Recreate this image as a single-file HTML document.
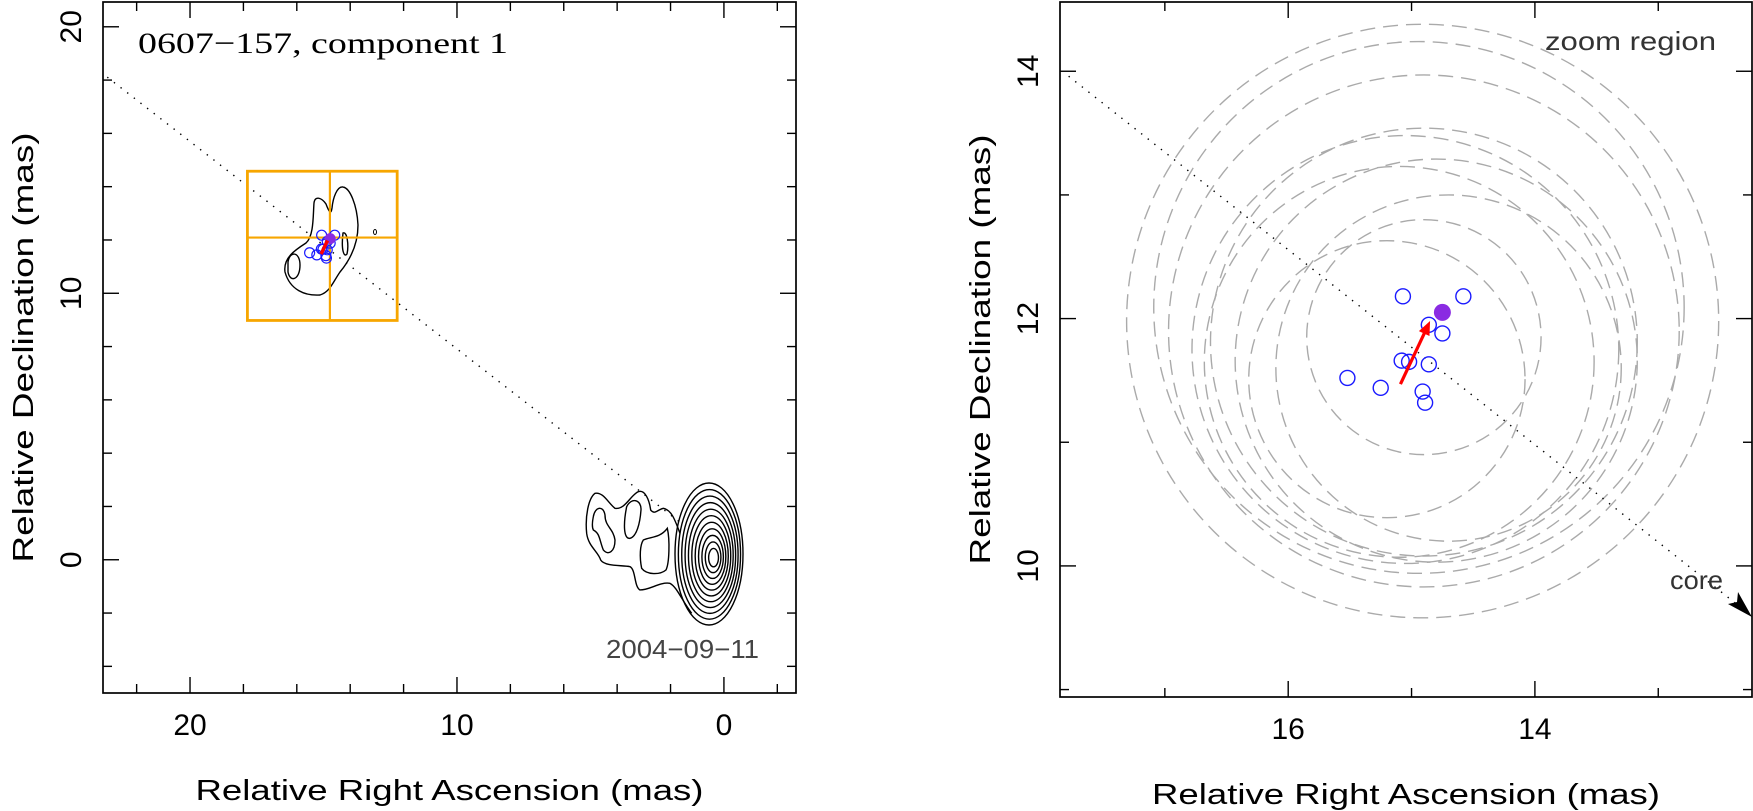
<!DOCTYPE html>
<html><head><meta charset="utf-8"><style>
html,body{margin:0;padding:0;background:#fff;}
svg{display:block;font-family:"Liberation Sans",sans-serif;}
</style></head><body>
<svg id="c" width="1753" height="811" viewBox="0 0 1753 811" xmlns="http://www.w3.org/2000/svg"></svg>
<script>
// ---- data ----
const compRA  = [15.07,14.58,14.86,14.75,15.08,15.02,14.86,15.52,15.25,14.91,14.89];
const compDec = [12.18,12.18,11.95,11.88,11.66,11.65,11.63,11.52,11.44,11.41,11.32];
const latestRA = [14.75];
const latestDec = [12.05];
const arrowRA = [15.09,14.85];
const arrowDec = [11.47,11.98];
const errCx = [14.91,14.94,14.90,14.90,15.05,14.80,15.10,14.70,14.90,15.20];
const errCy = [11.98,12.09,11.90,11.81,11.75,11.66,11.65,11.60,11.85,11.51];
const errR  = [2.40,2.15,2.07,1.73,1.73,1.63,1.58,1.40,0.95,1.12];
const zoomBoxRA = [17.85,12.24];
const zoomBoxDec = [14.58,8.98];
const zoomCross = [14.76,12.09];
const leftJetLineRA = [23.1,1.65];
const leftJetLineDec = [18.11,1.41];
const rightJetLineRA = [17.78,12.30];
const rightJetLineDec = [13.96,9.64];
const leftXTicks = [20,10,0];
const leftYTicks = [20,10,0];
const rightXTicks = [16,14];
const rightYTicks = [14,12,10];
const coreLevels = [1,2,3,4,5,6,7,8,9,10,11];

const svg = document.getElementById('c');
const NS = 'http://www.w3.org/2000/svg';
function mk(tag, attrs, parent){const e=document.createElementNS(NS,tag);for(const k in attrs)e.setAttribute(k,attrs[k]);(parent||svg).appendChild(e);return e;}

function panel(name, x0,x1,y0,y1, raL,raR,decT,decB, xMaj,xMin,yMaj,yMin, xTicks,yTicks){
  const g = mk('g',{});
  
  
  const X = v => x0 + (raL - v)/(raL-raR)*(x1-x0);
  const Y = v => y0 + (decT - v)/(decT-decB)*(y1-y0);
  const fr = mk('rect',{x:x0,y:y0,width:x1-x0,height:y1-y0,fill:'none',stroke:'#000','stroke-width':1.7},g);
  
  
  const eps=1e-6;
  for(let v=Math.ceil(Math.min(raL,raR)/xMin)*xMin; v<=Math.max(raL,raR)+eps; v+=xMin){
    const maj = Math.abs(v/xMaj-Math.round(v/xMaj))<1e-4; const Ln=maj?16:9; const px=X(v);
    mk('line',{x1:px,y1:y1,x2:px,y2:y1-Ln,stroke:'#000','stroke-width':1.4},g);
    mk('line',{x1:px,y1:y0,x2:px,y2:y0+Ln,stroke:'#000','stroke-width':1.4},g);
  }
  for(let v=Math.ceil(decB/yMin)*yMin; v<=decT+eps; v+=yMin){
    const maj = Math.abs(v/yMaj-Math.round(v/yMaj))<1e-4; const Ln=maj?16:9; const py=Y(v);
    mk('line',{x1:x0,y1:py,x2:x0+Ln,y2:py,stroke:'#000','stroke-width':1.4},g);
    mk('line',{x1:x1,y1:py,x2:x1-Ln,y2:py,stroke:'#000','stroke-width':1.4},g);
  }
  xTicks.forEach(v=>{const t=mk('text',{x:X(v),y:y1+42,'font-size':30,'text-anchor':'middle'},g);t.textContent=v;
    });
  yTicks.forEach(v=>{const cx=x0-22;const t=mk('text',{x:cx,y:Y(v),'font-size':30,'text-anchor':'middle',transform:`rotate(-90 ${cx} ${Y(v)})`},g);t.textContent=v;
    });
  const xl=mk('text',{x:(x0+x1)/2,y:y1+107,'font-size':29,'text-anchor':'middle',textLength:508,lengthAdjust:'spacingAndGlyphs'},g);xl.textContent='Relative Right Ascension (mas)';
  
  const yx=x0-70, yy=(y0+y1)/2;
  const yl=mk('text',{x:yx,y:yy,'font-size':29,'text-anchor':'middle',textLength:430,lengthAdjust:'spacingAndGlyphs',transform:`rotate(-90 ${yx} ${yy})`},g);yl.textContent='Relative Declination (mas)';
  
  return {g,X,Y};
}

// ---- left panel ----
const L = panel('left-panel',103,796,2,693, 23.26,-2.70,20.93,-5.0, 10,2,10,2, leftXTicks,leftYTicks);
const clipL = mk('clipPath',{id:'clipL'}); mk('rect',{x:103,y:2,width:693,height:691},clipL);
const lg = mk('g',{'clip-path':'url(#clipL)'},L.g);
const dl=mk('line',{x1:L.X(leftJetLineRA[0]),y1:L.Y(leftJetLineDec[0]),x2:L.X(leftJetLineRA[1]),y2:L.Y(leftJetLineDec[1]),stroke:'#000','stroke-width':1.4,'stroke-dasharray':'1.4 7'},lg);

coreLevels.forEach((lv,i)=>{
  const f = 1 - i/coreLevels.length;
  const e=mk('ellipse',{cx:714-5*f,cy:558-4*f,rx:32*f+2,ry:68*f+3,fill:'none',stroke:'#000','stroke-width':1.4},lg);
  
});
const jg = mk('g',{transform:'translate(560,400) scale(0.3333)'},lg);
[
 'M360,400 C345,360 335,330 310,325 C290,330 285,345 272,330 C268,300 255,268 235,275 C212,285 195,330 165,325 C145,310 130,275 105,280 C85,295 75,350 80,400 C85,440 115,455 122,480 C135,500 185,495 210,500 C228,510 222,560 240,570 C270,570 300,545 330,550 C350,560 365,600 395,640',
 'M100,350 C105,320 130,315 135,345 C135,380 160,385 165,420 C165,455 145,468 130,450 C118,420 120,400 100,390 C95,380 97,365 100,350 Z',
 'M200,320 C215,290 245,300 243,330 C240,370 230,410 210,415 C190,418 190,370 200,320 Z',
 'M250,420 C270,410 300,415 322,385 C330,420 328,490 318,510 C300,525 260,525 245,505 C238,470 240,435 250,420 Z'
].forEach(d=>{const p=mk('path',{d,fill:'none',stroke:'#000','stroke-width':4.2},jg);
  });
['M343,187 C350,188 357,205 358,225 C358,245 350,260 340,272 C333,282 330,292 320,295 C305,296 290,290 285,272 C283,258 295,250 306,243 C314,236 313,215 314,203 C315,195 322,198 326,204 C329,212 331,215 332,208 C333,198 337,186 343,187 Z',
 'M288,262 C290,250 300,252 300,265 C300,280 290,283 288,272 Z',
 'M343,233 C347,231 349,245 347,254 C344,258 341,250 343,233 Z'
].forEach(d=>{const p=mk('path',{d,fill:'none',stroke:'#000','stroke-width':1.4},lg);
  });
mk('ellipse',{cx:375,cy:232,rx:1.5,ry:2.5,fill:'none',stroke:'#000','stroke-width':1},lg);
const zb=mk('rect',{x:L.X(zoomBoxRA[0]),y:L.Y(zoomBoxDec[0]),width:L.X(zoomBoxRA[1])-L.X(zoomBoxRA[0]),height:L.Y(zoomBoxDec[1])-L.Y(zoomBoxDec[0]),fill:'none',stroke:'#f7a600','stroke-width':2.8},lg);

mk('line',{x1:L.X(zoomCross[0]),y1:L.Y(zoomBoxDec[0]),x2:L.X(zoomCross[0]),y2:L.Y(zoomBoxDec[1]),stroke:'#f7a600','stroke-width':2.2},lg);
mk('line',{x1:L.X(zoomBoxRA[0]),y1:L.Y(zoomCross[1]),x2:L.X(zoomBoxRA[1]),y2:L.Y(zoomCross[1]),stroke:'#f7a600','stroke-width':2.2},lg);
compRA.forEach((r,i)=>{const c=mk('circle',{cx:L.X(r),cy:L.Y(compDec[i]),r:5,fill:'none',stroke:'#1a1aff','stroke-width':1.2},lg);
  });
mk('circle',{cx:L.X(latestRA[0]),cy:L.Y(latestDec[0]),r:5.5,fill:'#8a2be2'},lg);
mk('line',{x1:L.X(arrowRA[0]),y1:L.Y(arrowDec[0]),x2:L.X(arrowRA[1]),y2:L.Y(arrowDec[1]),stroke:'#f00','stroke-width':3.5},lg);
const t1=mk('text',{x:138,y:53,'font-size':30,'font-family':'Liberation Serif, serif',textLength:370,lengthAdjust:'spacingAndGlyphs'},L.g);t1.textContent='0607\u2212157, component 1';

const t2=mk('text',{x:606,y:658,'font-size':26,fill:'#444',textLength:153,lengthAdjust:'spacingAndGlyphs'},L.g);t2.textContent='2004\u221209\u221211';


// ---- right panel ----
const R = panel('right-panel',1060,1752,2,697, 17.85,12.24,14.56,8.94, 2,1,2,1, rightXTicks,rightYTicks);
const clipR = mk('clipPath',{id:'clipR'}); mk('rect',{x:1060,y:2,width:692,height:695},clipR);
const rg = mk('g',{'clip-path':'url(#clipR)'},R.g);
const pxPerRA = R.X(0)-R.X(1), pxPerDec = R.Y(0)-R.Y(1);
errR.forEach((r,i)=>{const e=mk('ellipse',{cx:R.X(errCx[i]),cy:R.Y(errCy[i]),rx:r*pxPerRA,ry:r*pxPerDec,fill:'none',stroke:'#aaa','stroke-width':1.4,'stroke-dasharray':'15 8'},rg);
  });
const dr=mk('line',{x1:R.X(rightJetLineRA[0]),y1:R.Y(rightJetLineDec[0]),x2:R.X(rightJetLineRA[1]),y2:R.Y(rightJetLineDec[1]),stroke:'#000','stroke-width':1.4,'stroke-dasharray':'1.4 7'},rg);

const ah=mk('path',{d:'M1752,617 L1728,604 L1737,602 L1738,592 Z',fill:'#000'},rg);

compRA.forEach((r,i)=>{const c=mk('circle',{cx:R.X(r),cy:R.Y(compDec[i]),r:7.5,fill:'none',stroke:'#1a1aff','stroke-width':1.4},rg);
  });
const lp=mk('circle',{cx:R.X(latestRA[0]),cy:R.Y(latestDec[0]),r:8.5,fill:'#8a2be2'},rg);

const ax1=R.X(arrowRA[0]),ay1=R.Y(arrowDec[0]),ax2=R.X(arrowRA[1]),ay2=R.Y(arrowDec[1]);
const ang=Math.atan2(ay2-ay1,ax2-ax1);
const ra=mk('line',{x1:ax1,y1:ay1,x2:ax2-8*Math.cos(ang),y2:ay2-8*Math.sin(ang),stroke:'#f00','stroke-width':3.2},rg);

mk('path',{d:`M${ax2},${ay2} L${ax2-15*Math.cos(ang-0.4)},${ay2-15*Math.sin(ang-0.4)} L${ax2-15*Math.cos(ang+0.4)},${ay2-15*Math.sin(ang+0.4)} Z`,fill:'#f00'},rg);
const t3=mk('text',{x:1545,y:50,'font-size':26,fill:'#333',textLength:171,lengthAdjust:'spacingAndGlyphs'},R.g);t3.textContent='zoom region';

const t4=mk('text',{x:1670,y:589,'font-size':26,fill:'#333',textLength:53,lengthAdjust:'spacingAndGlyphs'},R.g);t4.textContent='core';

</script>
</body></html>
